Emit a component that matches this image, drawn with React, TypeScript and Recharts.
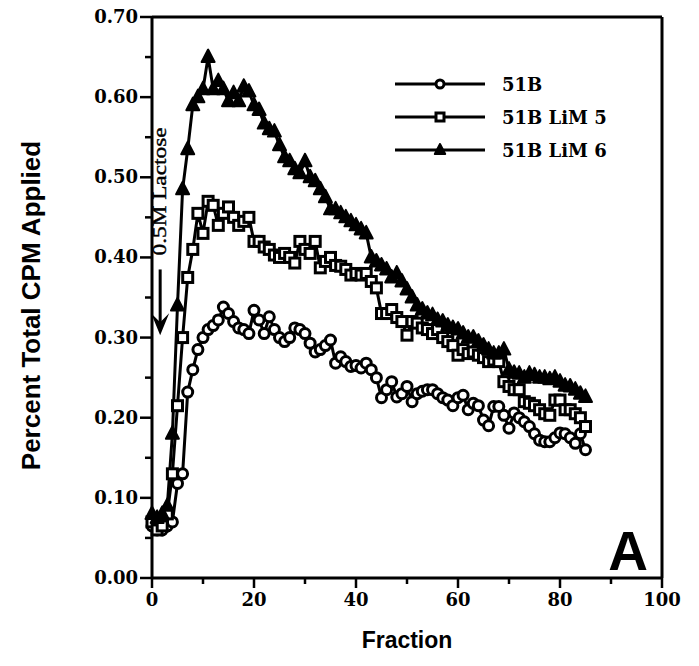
import { LineChart, Line, XAxis, YAxis, ReferenceLine } from 'recharts';

// fraction numbers collected from the column
const fractions = [
    0, 1, 2, 3, 4, 5, 6, 7, 8, 9, 10, 11, 12, 13, 14, 15, 16, 17, 18, 19,
    20, 21, 22, 23, 24, 25, 26, 27, 28, 29, 30, 31, 32, 33, 34, 35, 36, 37, 38, 39,
    40, 41, 42, 43, 44, 45, 46, 47, 48, 49, 50, 51, 52, 53, 54, 55, 56, 57, 58, 59,
    60, 61, 62, 63, 64, 65, 66, 67, 68, 69, 70, 71, 72, 73, 74, 75, 76, 77, 78, 79,
    80, 81, 82, 83, 84, 85,
];

const series51B = [
    0.065, 0.06, 0.06, 0.065, 0.07, 0.118, 0.13, 0.232, 0.26, 0.285,
    0.3, 0.31, 0.315, 0.322, 0.338, 0.33, 0.32, 0.312, 0.31, 0.305,
    0.334, 0.322, 0.305, 0.326, 0.31, 0.3, 0.295, 0.3, 0.312, 0.31,
    0.305, 0.293, 0.282, 0.285, 0.29, 0.297, 0.268, 0.276, 0.27, 0.264,
    0.265, 0.262, 0.268, 0.26, 0.25, 0.225, 0.235, 0.245, 0.226, 0.23,
    0.239, 0.22, 0.23, 0.233, 0.235, 0.235, 0.23, 0.225, 0.222, 0.215,
    0.225, 0.228, 0.21, 0.218, 0.215, 0.197, 0.19, 0.214, 0.214, 0.203,
    0.187, 0.206, 0.2, 0.195, 0.189, 0.18, 0.172, 0.17, 0.17, 0.175,
    0.181, 0.18, 0.175, 0.168, 0.18, 0.16,
];

const seriesLiM5 = [
    0.07, 0.06, 0.065, 0.08, 0.13, 0.215, 0.3, 0.375, 0.41, 0.455,
    0.43, 0.47, 0.465, 0.44, 0.455, 0.463, 0.45, 0.44, 0.445, 0.45,
    0.42, 0.42, 0.413, 0.41, 0.403, 0.4, 0.405, 0.4, 0.393, 0.42,
    0.41, 0.405, 0.42, 0.387, 0.395, 0.4, 0.39, 0.389, 0.385, 0.378,
    0.38, 0.378, 0.38, 0.37, 0.362, 0.33, 0.33, 0.335, 0.325, 0.32,
    0.303, 0.32, 0.318, 0.312, 0.31, 0.305, 0.31, 0.3, 0.295, 0.29,
    0.278, 0.285, 0.28, 0.282, 0.278, 0.275, 0.27, 0.272, 0.27, 0.245,
    0.239, 0.235, 0.235, 0.22, 0.218, 0.215, 0.21, 0.205, 0.203, 0.222,
    0.222, 0.21, 0.21, 0.205, 0.2, 0.189,
];

const seriesLiM6 = [
    0.08, 0.075, 0.08, 0.09, 0.18, 0.34, 0.485, 0.535, 0.59, 0.6,
    0.61, 0.65, 0.61, 0.62, 0.61, 0.595, 0.605, 0.595, 0.613, 0.607,
    0.59, 0.584, 0.567, 0.56, 0.557, 0.54, 0.525, 0.52, 0.51, 0.505,
    0.52, 0.5, 0.495, 0.485, 0.475, 0.46, 0.46, 0.455, 0.45, 0.445,
    0.44, 0.435, 0.43, 0.4, 0.395, 0.39, 0.385, 0.375, 0.38, 0.37,
    0.36, 0.35, 0.34, 0.335, 0.33, 0.328, 0.322, 0.32, 0.315, 0.312,
    0.31, 0.305, 0.3, 0.3, 0.295, 0.29, 0.285, 0.28, 0.28, 0.285,
    0.26, 0.256, 0.255, 0.25, 0.255, 0.253, 0.25, 0.25, 0.248, 0.25,
    0.245, 0.24, 0.239, 0.235, 0.23, 0.226,
];

const xTicks = [0, 10, 20, 30, 40, 50, 60, 70, 80, 90, 100];
const yTicks = [0, 0.05, 0.1, 0.15, 0.2, 0.25, 0.3, 0.35, 0.4, 0.45, 0.5, 0.55, 0.6, 0.65, 0.7];

const legendItems = ['51B', '51B LiM 5', '51B LiM 6'];

const INK = '#000';
const TICK_FONT = '"DejaVu Serif", serif';
const SANS = '"Liberation Sans", Arial, sans-serif';

const CircleMark = ({ cx, cy, r = 5 }: { cx: number; cy: number; r?: number }) => (
    <circle cx={cx} cy={cy} r={r} fill="#fff" stroke={INK} strokeWidth={3} />
);

const SquareMark = ({ cx, cy, r = 5 }: { cx: number; cy: number; r?: number }) => (
    <rect x={cx - r} y={cy - r} width={r * 2} height={r * 2} fill="#fff" stroke={INK} strokeWidth={3} />
);

const TriangleMark = ({ cx, cy, r = 5 }: { cx: number; cy: number; r?: number }) => (
    <polygon
        points={`${cx},${cy - r * 1.5} ${cx - r * 1.3},${cy + r} ${cx + r * 1.3},${cy + r}`}
        fill={INK}
        stroke={INK}
        strokeWidth={2}
        strokeLinejoin="round"
    />
);

const markers = [CircleMark, SquareMark, TriangleMark];

const YTick = ({ x, y, payload }: any) => {
    const v = payload.value as number;
    const major = Math.round(v * 100) % 10 === 0;
    return (
        <g>
            <line x1={x} x2={x - (major ? 12 : 7)} y1={y} y2={y} stroke={INK} strokeWidth={2.5} />
            {major && (
                <text x={x - 14} y={y} dy={6} textAnchor="end" fontFamily={TICK_FONT} fontWeight="bold" fontSize={18} fill={INK}>
                    {v.toFixed(2)}
                </text>
            )}
        </g>
    );
};

const XTick = ({ x, y, payload }: any) => {
    const v = payload.value as number;
    const major = v % 20 === 0;
    return (
        <g>
            <line x1={x} x2={x} y1={y} y2={y + (major ? 10 : 6)} stroke={INK} strokeWidth={2.5} />
            {major && (
                <text x={x} y={y + 28} textAnchor="middle" fontFamily={TICK_FONT} fontWeight="bold" fontSize={18} fill={INK}>
                    {v}
                </text>
            )}
        </g>
    );
};

// arrow + "0.5M Lactose" note drawn on a reference segment
const LactoseArrow = (props: any) => {
    const { x1, y1, x2, y2 } = props;
    if (x1 == null) return null;
    return (
        <g>
            <line x1={x1} y1={y1} x2={x2} y2={y2 - 10} stroke={INK} strokeWidth={3} />
            <polygon points={`${x2 - 9},${y2 - 22} ${x2},${y2} ${x2 + 9},${y2 - 22} ${x2},${y2 - 13}`} fill={INK} />
            <text
                x={x1 + 6}
                y={y1 - 14}
                transform={`rotate(-90 ${x1 + 6} ${y1 - 14})`}
                fontFamily='"Liberation Serif", serif'
                fontSize={19}
                fill={INK}
                stroke={INK}
                strokeWidth={0.4}
                textLength={128}
                lengthAdjust="spacingAndGlyphs"
            >
                0.5M Lactose
            </text>
        </g>
    );
};

const YLabel = ({ viewBox }: any) => {
    const cx = viewBox.x + 32;
    const cy = viewBox.y + viewBox.height / 2 + 8;
    return (
        <text
            x={cx}
            y={cy}
            transform={`rotate(-90 ${cx} ${cy})`}
            textAnchor="middle"
            fontFamily={SANS}
            fontWeight="bold"
            fontSize={26}
            fill={INK}
        >
            Percent Total CPM Applied
        </text>
    );
};

export default function App() {
    const rows = fractions.map((f, i) => ({
        fraction: f,
        b51: series51B[i],
        lim5: seriesLiM5[i],
        lim6: seriesLiM6[i],
    }));

    const keys = ['b51', 'lim5', 'lim6'];

    return (
        <div style={{ position: 'relative', width: 690, height: 658, marginTop: -8 }}>
            <LineChart width={690} height={658} data={rows} margin={{ top: 17, right: 36, left: 0, bottom: 0 }}>
                <XAxis
                    dataKey="fraction"
                    type="number"
                    domain={[0, 100]}
                    ticks={xTicks}
                    interval={0}
                    height={80}
                    tickSize={0}
                    tickMargin={0}
                    tickLine={false}
                    axisLine={{ stroke: INK, strokeWidth: 3 }}
                    tick={<XTick />}
                    label={{
                        value: 'Fraction',
                        position: 'insideBottom',
                        offset: 10,
                        style: { fontFamily: SANS, fontWeight: 'bold', fontSize: 23, fill: INK },
                    }}
                />
                <YAxis
                    type="number"
                    domain={[0, 0.7]}
                    ticks={yTicks}
                    interval={0}
                    width={144}
                    tickSize={0}
                    tickMargin={0}
                    tickLine={false}
                    axisLine={{ stroke: INK, strokeWidth: 3 }}
                    tick={<YTick />}
                    label={{ content: <YLabel /> }}
                />
                <ReferenceLine y={0.7} stroke={INK} strokeWidth={3} />
                <ReferenceLine x={100} stroke={INK} strokeWidth={3} />
                <ReferenceLine
                    segment={[{ x: 1.6, y: 0.385 }, { x: 1.6, y: 0.303 }]}
                    shape={<LactoseArrow />}
                />
                {keys.map((k, s) => {
                    const Mark = markers[s];
                    return (
                        <Line
                            key={k}
                            dataKey={k}
                            stroke={INK}
                            strokeWidth={3}
                            isAnimationActive={false}
                            dot={(p: any) => <Mark key={`${k}-${p.index}`} cx={p.cx} cy={p.cy} />}
                        />
                    );
                })}
            </LineChart>
            <svg width={690} height={658} style={{ position: 'absolute', left: 0, top: 0, pointerEvents: 'none' }}>
                {legendItems.map((name, i) => {
                    const Mark = markers[i];
                    const y = 84 + i * 33;
                    return (
                        <g key={name}>
                            <line x1={387} x2={477} y1={y} y2={y} stroke={INK} strokeWidth={3} />
                            <Mark cx={432} cy={y} r={4} />
                            <text x={494} y={y + 7} fontFamily={TICK_FONT} fontWeight="bold" fontSize={18} fill={INK}>
                                {name}
                            </text>
                        </g>
                    );
                })}
                <text x={620} y={570} textAnchor="middle" fontFamily={SANS} fontWeight="bold" fontSize={55} fill={INK}>
                    A
                </text>
            </svg>
        </div>
    );
}
